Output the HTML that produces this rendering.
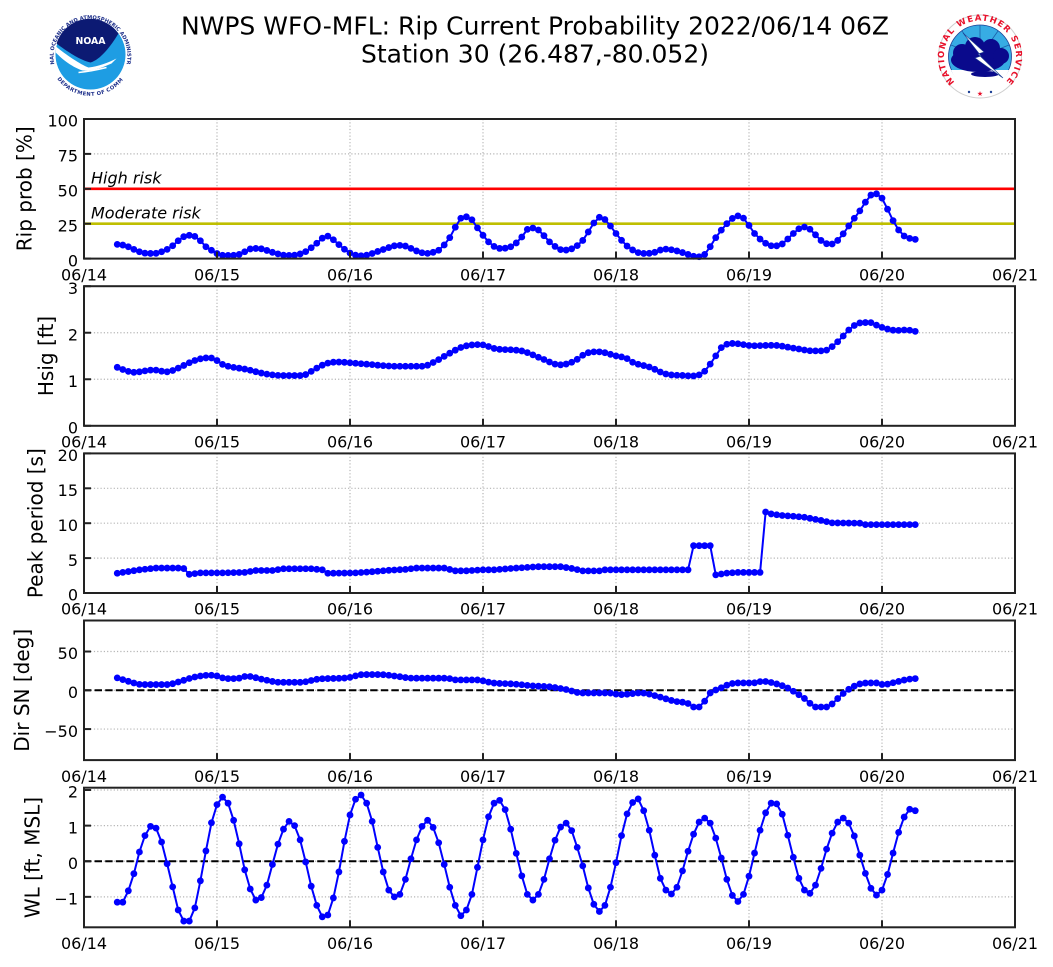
<!DOCTYPE html>
<html><head><meta charset="utf-8">
<style>
html,body{margin:0;padding:0;background:#fff;}
svg{display:block;}
text{font-family:"DejaVu Sans","Liberation Sans",sans-serif;}
</style></head>
<body>
<svg id="c" width="1053" height="967" viewBox="0 0 1053 967" xmlns="http://www.w3.org/2000/svg">
<rect x="0" y="0" width="1053" height="967" fill="#fff"/>
<text x="535" y="34.3" font-size="25" text-anchor="middle" fill="#000">NWPS WFO-MFL: Rip Current Probability 2022/06/14 06Z</text>
<text x="535" y="62.7" font-size="25" text-anchor="middle" fill="#000">Station 30 (26.487,-80.052)</text>

<!-- NOAA logo -->
<g transform="translate(90.5,54.5)">
  <circle r="40.5" fill="#fff"/>
  <defs>
    <path id="noaaTop" d="M -36,10 A 37 37 0 1 1 36,10"/>
    <path id="noaaBot" d="M -30,22 A 37 37 0 0 0 30,22"/>
    <path id="nwsRing" d="M 954.5,82 A 36 36 0 1 1 1005.5,82"/>
  </defs>
  <text font-size="5.2" fill="#1d2f8a" font-weight="bold"><textPath href="#noaaTop" startOffset="50%" text-anchor="middle">NATIONAL OCEANIC AND ATMOSPHERIC ADMINISTRATION</textPath></text>
  <text font-size="5.2" fill="#1d2f8a" font-weight="bold" dy="4"><textPath href="#noaaBot" startOffset="50%" text-anchor="middle">U.S. DEPARTMENT OF COMMERCE</textPath></text>
  <circle r="35" fill="#1e9de3"/>
  <path d="M -34,-11 A 35 35 0 0 1 28,-21 C 20,-8 10,5 0,8 C -10,6 -25,-4 -34,-11 Z" fill="#0c1a73"/>
  <path d="M -34.5,-8 C -25,0 -10,10 -2,13 C 8,12 18,8 26,4 L 21,9 C 10,14 0,17 -8,16 C -20,12 -30,3 -34.8,-2 Z" fill="#fff"/>
  <path d="M -12,18 C -2,17 8,15 16,13" stroke="#fff" stroke-width="1.6" fill="none"/>
  <text x="0" y="-10.5" font-size="10" font-weight="bold" fill="#fff" text-anchor="middle" textLength="30" lengthAdjust="spacingAndGlyphs">NOAA</text>
</g>

<!-- NWS logo -->
<g>
  <circle cx="980" cy="56.5" r="41.5" fill="#fff" stroke="#cfcfcf" stroke-width="1"/>
  <text font-size="8.5" font-weight="bold" fill="#e8102a" letter-spacing="1.2"><textPath href="#nwsRing" startOffset="50%" text-anchor="middle">NATIONAL WEATHER SERVICE</textPath></text>
  <circle cx="980" cy="56.5" r="31.5" fill="#37ace4" stroke="#1c3f94" stroke-width="0.8"/>
  <g stroke="#1c5fa8" stroke-width="0.8">
    <line x1="980" y1="56.5" x2="980" y2="25"/>
    <line x1="980" y1="56.5" x2="962" y2="31"/>
    <line x1="980" y1="56.5" x2="998" y2="31"/>
    <line x1="980" y1="56.5" x2="951" y2="45"/>
    <line x1="980" y1="56.5" x2="1009" y2="45"/>
  </g>
  <path d="M 951,70 A 31.5 31.5 0 0 0 1009,70 Z" fill="#fff"/>
  <g fill="#0a0a8c">
    <ellipse cx="978" cy="60" rx="27" ry="12"/>
    <circle cx="962" cy="53" r="9"/>
    <circle cx="975" cy="47" r="10"/>
    <circle cx="991" cy="48" r="9"/>
    <circle cx="1001" cy="56" r="8"/>
    <ellipse cx="985" cy="74" rx="14" ry="3"/>
  </g>
  <polygon points="963,33 984,52 978,54 1003,78 975,58 981,56" fill="#fff" stroke="#1c3f94" stroke-width="0.6"/>
  <circle cx="969" cy="92" r="1.2" fill="#1c3f94"/>
  <circle cx="991" cy="92" r="1.2" fill="#1c3f94"/>
  <text x="980" y="96" font-size="7" fill="#e8102a" text-anchor="middle">★</text>
</g>
</svg>
<script>
(function(){
const NS="http://www.w3.org/2000/svg";
const svg=document.getElementById('c');
const L=84,R=1015,DAY=133,H=139.6;
const tops=[119,286.2,453.4,620.5,787.7];
function el(tag,attrs,txt){const e=document.createElementNS(NS,tag);for(const k in attrs)e.setAttribute(k,attrs[k]);if(txt!==undefined)e.textContent=txt;svg.appendChild(e);return e;}
function X(h){return L+h*DAY/24;}
function fmt(v){return v<0?'\u2212'+(-v):''+v;}
const panels=[
 {ymin:0,ymax:100,ticks:[0,25,50,75,100],label:'Rip prob [%]',lx:31.5},
 {ymin:0,ymax:3,ticks:[0,1,2,3],label:'Hsig [ft]',lx:52.8},
 {ymin:0,ymax:20,ticks:[0,5,10,15,20],label:'Peak period [s]',lx:42.5},
 {ymin:-90,ymax:90,ticks:[-50,0,50],label:'Dir SN [deg]',lx:29},
 {ymin:-1.855,ymax:2.065,ticks:[-1,0,1,2],label:'WL [ft, MSL]',lx:39.5}
];
function Yf(p,i){const t=tops[i],b=t+H;return v=>b-(v-p.ymin)/(p.ymax-p.ymin)*H;}
function mono(pts){
 const n=pts.length,xs=pts.map(p=>p[0]),ys=pts.map(p=>p[1]);const d=[],m=[];
 for(let i=0;i<n-1;i++)d.push((ys[i+1]-ys[i])/(xs[i+1]-xs[i]));
 m[0]=d[0];m[n-1]=d[n-2];
 for(let i=1;i<n-1;i++){m[i]=(d[i-1]*d[i]<=0)?0:(d[i-1]+d[i])/2;}
 for(let i=0;i<n-1;i++){if(d[i]===0){m[i]=0;m[i+1]=0;continue;}const a=m[i]/d[i],b=m[i+1]/d[i],s=a*a+b*b;if(s>9){const t=3/Math.sqrt(s);m[i]=t*a*d[i];m[i+1]=t*b*d[i];}}
 return function(x){let i=0;while(i<n-2&&x>xs[i+1])i++;const h=xs[i+1]-xs[i],t=(x-xs[i])/h,t2=t*t,t3=t2*t;
  return (2*t3-3*t2+1)*ys[i]+(t3-2*t2+t)*h*m[i]+(-2*t3+3*t2)*ys[i+1]+(t3-t2)*h*m[i+1];};
}
function lin(pts){return function(x){let i=0;while(i<pts.length-2&&x>pts[i+1][0])i++;const a=pts[i],b=pts[i+1];return a[1]+(b[1]-a[1])*(x-a[0])/(b[0]-a[0]);};}

const p1=[[6,10.2],[7,9.7],[8,8.5],[9,6.6],[10,4.9],[11,3.9],[12,3.7],[13,3.8],[14,4.9],[15,6.6],[16,9.2],[17,12.8],[18,15.7],[19,16.7],[20,15.9],[21,12.8],[22,8.5],[23,6],[24,3.6],[25,2.4],[26,2.3],[28,3],[30.5,7.3],[32,7],[34,4.5],[36.6,2.3],[38,2.5],[40,5],[42,11],[43.8,16.2],[45,13.5],[46,10],[48,4],[49.8,2],[51,2.5],[54,6.5],[56.7,9.5],[58,9],[60,5.5],[61.8,3.7],[63,4.5],[64,6],[66,15],[67.5,26],[68.4,30],[69.5,29.5],[71,22],[73,12],[75,7.3],[77,8.5],[78.5,13],[80.5,22],[82,20.5],[84,12],[86.5,6.1],[88,7],[90,13],[92,25.5],[93,29.6],[94,28],[96,18],[98,9],[100.9,3.7],[102.5,4],[104.8,6.8],[107,5.5],[109,3],[110.6,1.3],[112,3],[114,15],[116,25],[118,30.6],[119,29],[121,18],[123,11],[124.4,9],[126,10.5],[128,18],[129.8,22.7],[131,21],[133,13],[134.6,10.2],[136,13],[138,23.4],[139,28.9],[140,34.2],[141,40.4],[142,45.5],[143,46.4],[144,43.3],[145,35.4],[146,27.2],[147,20.5],[148,16.2],[149,14.5],[150,13.8]];
const p2=[[6,1.257],[8,1.17],[9,1.15],[12.5,1.2],[15,1.16],[17,1.24],[19.1,1.36],[21,1.44],[22.5,1.46],[23.3,1.45],[25,1.32],[29.4,1.21],[33,1.11],[36,1.08],[39,1.08],[40.2,1.11],[41.4,1.2],[43.8,1.34],[45.6,1.37],[50.4,1.33],[56.4,1.28],[61.2,1.28],[63,1.36],[66,1.56],[68.4,1.70],[71.5,1.745],[74.5,1.65],[77.5,1.63],[79.3,1.60],[82.3,1.46],[85.9,1.31],[88.3,1.38],[90.7,1.56],[92.8,1.59],[96.1,1.50],[97.9,1.45],[99.1,1.36],[102.1,1.26],[105.1,1.11],[108.4,1.08],[109.6,1.07],[111.7,1.14],[112.9,1.31],[114.1,1.52],[115,1.68],[117.1,1.77],[120.8,1.72],[124.4,1.73],[128,1.67],[131.6,1.61],[133.4,1.61],[135.2,1.72],[137,1.93],[138.2,2.08],[140,2.21],[141.8,2.22],[143.6,2.13],[146.6,2.05],[148.4,2.06],[150,2.03]];
const p3=[[6,2.83],[10,3.32],[13,3.57],[17,3.57],[18,3.5],[19,2.68],[21,2.88],[25,2.88],[29,2.95],[31,3.22],[34,3.22],[36,3.47],[41,3.47],[43,3.32],[44,2.83],[49,2.88],[52,3.05],[55,3.25],[58,3.38],[60,3.57],[65,3.57],[67,3.18],[69,3.18],[72,3.32],[74,3.32],[78,3.57],[82,3.77],[86,3.77],[88,3.52],[90,3.17],[93,3.17],[94,3.32],[109,3.32],[110,6.78],[113,6.78],[114,2.6],[116,2.85],[118,2.95],[122,2.95],[123,11.6],[124,11.33],[126,11.1],[128,11.0],[130,10.85],[133,10.4],[135,10.05],[140,10.0],[141,9.8],[150,9.8]];
const p4=[[6,16],[8,11.6],[10.5,7.4],[15,7.4],[17.4,11.6],[19.8,16.8],[22.5,19.4],[23.3,19.4],[25.7,15.1],[27.5,15.1],[29.4,18.1],[32.4,13.8],[35.4,10.3],[39,10.3],[42.6,14.7],[47.4,16],[50.4,20.3],[53.4,20.3],[56.4,18.1],[59.4,15.6],[65.4,15.6],[67.2,13.4],[70.8,13.4],[73.8,9.5],[77.4,8.2],[81,5.7],[84,4.5],[87,1],[89.7,-3.4],[94.5,-3.4],[96.9,-5.5],[100.5,-3.4],[103.5,-7.8],[106.5,-14],[109,-17],[110,-21.5],[111,-21.5],[112,-14],[113,-3.4],[114.6,1.8],[116.3,7.4],[118,9.5],[120.7,9.5],[122.5,11.6],[124.3,9.5],[126.7,3.9],[128.5,-3.4],[130.3,-12],[132,-21.5],[134,-21.5],[135.2,-16.4],[136.4,-7.8],[138.2,2.2],[140,8.2],[141.8,9.5],[143,9.5],[144.2,7.4],[146.6,10.8],[148.4,13.8],[150,15.1]];
const wl=[-1.15,-1.15,-0.83,-0.35,0.26,0.72,0.98,0.93,0.54,-0.07,-0.72,-1.37,-1.68,-1.68,-1.31,-0.55,0.29,1.08,1.59,1.80,1.63,1.15,0.49,-0.24,-0.78,-1.09,-1.02,-0.67,-0.09,0.48,0.9,1.12,1.0,0.6,-0.02,-0.7,-1.24,-1.56,-1.51,-1.03,-0.3,0.56,1.30,1.74,1.86,1.63,1.12,0.39,-0.3,-0.81,-1.0,-0.93,-0.51,0.07,0.6,0.98,1.15,0.95,0.52,-0.09,-0.73,-1.24,-1.53,-1.37,-0.93,-0.17,0.6,1.25,1.63,1.71,1.45,0.9,0.22,-0.41,-0.93,-1.09,-0.93,-0.51,0.07,0.59,0.96,1.07,0.86,0.39,-0.13,-0.75,-1.21,-1.41,-1.24,-0.73,-0.04,0.72,1.33,1.65,1.75,1.42,0.87,0.17,-0.48,-0.81,-0.92,-0.73,-0.27,0.28,0.76,1.1,1.21,1.07,0.65,0.09,-0.51,-0.96,-1.13,-0.93,-0.42,0.23,0.87,1.36,1.63,1.61,1.32,0.73,0.11,-0.48,-0.81,-0.9,-0.67,-0.2,0.34,0.79,1.1,1.21,1.07,0.71,0.17,-0.34,-0.76,-0.95,-0.81,-0.37,0.23,0.81,1.24,1.46,1.42];
const f1=mono(p1),f2=mono(p2),f3=lin(p3),f4=mono(p4);
const series=[[],[],[],[],[]];
for(let h=6;h<=150;h++){series[0].push(f1(h));series[1].push(f2(h));series[2].push(f3(h));series[3].push(f4(h));series[4].push(wl[h-6]);}

panels.forEach((p,i)=>{
 const t=tops[i],b=t+H,Y=Yf(p,i);
 // grid
 for(let d=1;d<=6;d++){const x=L+d*DAY;el('line',{x1:x,y1:t,x2:x,y2:b,stroke:'#b5b5b5','stroke-width':1.2,'stroke-dasharray':'1.2 2.1'});}
 p.ticks.forEach(v=>{const y=Y(v);if(y>t+0.5&&y<b-0.5)el('line',{x1:L,y1:y,x2:R,y2:y,stroke:'#b5b5b5','stroke-width':1.2,'stroke-dasharray':'1.2 2.1'});});
 if(i===0){
  el('line',{x1:L,y1:Y(50),x2:R,y2:Y(50),stroke:'#ff0000','stroke-width':2.6});
  el('line',{x1:L,y1:Y(25),x2:R,y2:Y(25),stroke:'#bfbf00','stroke-width':2.6});
  el('text',{x:91,y:183.5,'font-size':16,'font-style':'italic',fill:'#000'},'High risk');
  el('text',{x:91,y:218.5,'font-size':16,'font-style':'italic',fill:'#000'},'Moderate risk');
 }
 if(i===3||i===4){el('line',{x1:L,y1:Y(0),x2:R,y2:Y(0),stroke:'#000','stroke-width':2,'stroke-dasharray':'7.4 3.2'});}
 // series
 const s=series[i];let pts='';
 s.forEach((v,k)=>{pts+=X(k+6).toFixed(2)+','+Y(v).toFixed(2)+' ';});
 el('polyline',{points:pts,fill:'none',stroke:'#0000ff','stroke-width':2,'stroke-linejoin':'round'});
 s.forEach((v,k)=>{el('circle',{cx:X(k+6).toFixed(2),cy:Y(v).toFixed(2),r:3.4,fill:'#0000ff'});});
 // ticks
 p.ticks.forEach(v=>{const y=Y(v);el('line',{x1:L,y1:y,x2:L+7,y2:y,stroke:'#222','stroke-width':2});
  el('text',{x:78,y:(y+7.7).toFixed(2),'font-size':16,'text-anchor':'end',fill:'#000'},fmt(v));});
 for(let d=0;d<=7;d++){const x=L+d*DAY;el('line',{x1:x,y1:b,x2:x,y2:b-7,stroke:'#222','stroke-width':2});
  el('text',{x:x,y:(b+21.7).toFixed(2),'font-size':16,'text-anchor':'middle',fill:'#000'},'06/'+(14+d));}
 // frame
 el('rect',{x:L,y:t,width:R-L,height:H,fill:'none',stroke:'#222','stroke-width':2});
 // ylabel
 const cy=t+H/2;
 el('text',{x:p.lx,y:cy,'font-size':20,'text-anchor':'middle',fill:'#000',transform:'rotate(-90 '+p.lx+' '+cy+')'},p.label);
});
})();
</script>
</body></html>
